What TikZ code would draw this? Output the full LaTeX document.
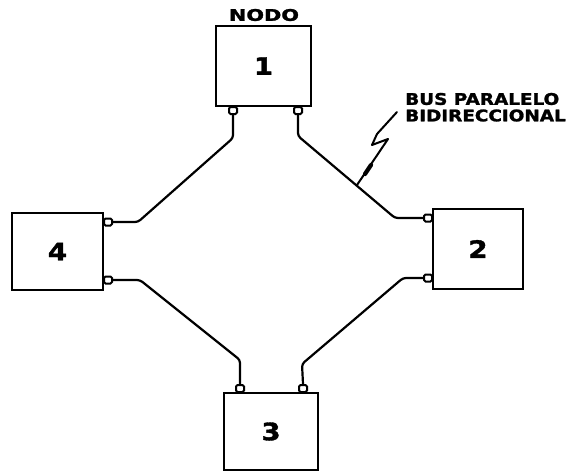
\documentclass[tikz,border=0pt]{standalone}
\usepackage{fontspec}
\setmainfont{DejaVu Sans}
\newfontfamily\heavy[FakeBold=1.5]{DejaVu Sans Bold}
\usepackage{graphicx}
\newcommand{\wide}[2]{\scalebox{#1}[1]{#2}}
\begin{document}
\begin{tikzpicture}[x=1pt,y=-1pt,
  nodebox/.style={draw,line width=2.8pt,inner sep=0pt,font=\fontsize{24}{26}\heavy},
  tab/.style={draw,line width=2pt,rounded corners=1.5pt,minimum width=8pt,minimum height=7pt,inner sep=0pt},
  bus/.style={line width=2.2pt,rounded corners=3pt},
  lbl/.style={inner sep=0pt,font=\fontsize{16}{17}\heavy}]
\useasboundingbox (0,0) rectangle (570,474);
% nodes
\node[nodebox,minimum width=95pt,minimum height=80pt] (n1) at (263.5,66) {\raisebox{-3pt}{\wide{1.15}{1}}};
\node[nodebox,minimum width=90pt,minimum height=80pt] (n2) at (478,249) {\wide{1.15}{2}};
\node[nodebox,minimum width=91pt,minimum height=77pt] (n4) at (57.5,251.5) {\wide{1.15}{4}};
\node[nodebox,minimum width=94pt,minimum height=77pt] (n3) at (271,431.5) {\raisebox{-3pt}{\wide{1.15}{3}}};
% tabs
\node[tab,anchor=north] (t1a) at (233,106) {};
\node[tab,anchor=north] (t1b) at (298,106) {};
\node[tab,anchor=east] (t2a) at (433,218) {};
\node[tab,anchor=east] (t2b) at (433,278) {};
\node[tab,anchor=west] (t4a) at (103,222) {};
\node[tab,anchor=west] (t4b) at (103,280) {};
\node[tab,anchor=south] (t3a) at (240,393) {};
\node[tab,anchor=south] (t3b) at (303,393) {};
% connectors
\draw[bus] (t1a.south) -- (233,138) -- (138,222) -- (t4a.east);
\draw[bus] (t1b.south) -- (298,136) -- (395,218) -- (t2a.west);
\draw[bus] (t4b.east) -- (140,280) -- (240,360) -- (t3a.north);
\draw[bus] (t2b.west) -- (403,278) -- (302,364) -- (t3b.north);
% labels
\node[lbl] (nodo) at (264,15) {\wide{1.3}{NODO}};
\node[lbl,anchor=west] (busa) at (405,99) {\wide{1.15}{BUS PARALELO}};
\node[lbl,anchor=west] (busb) at (405,115.5) {\wide{1.15}{BIDIRECCIONAL}};
% bolt pointer
\coordinate (bt) at (397,112);
\coordinate (be) at (357,185);
\draw[line width=2pt,line join=round,line cap=round] (bt) -- (377,134) -- (372,145) -- (388,139) -- (be);
\draw[line width=4.2pt,line cap=round] (371,165) -- (365,174);
\end{tikzpicture}
\end{document}
